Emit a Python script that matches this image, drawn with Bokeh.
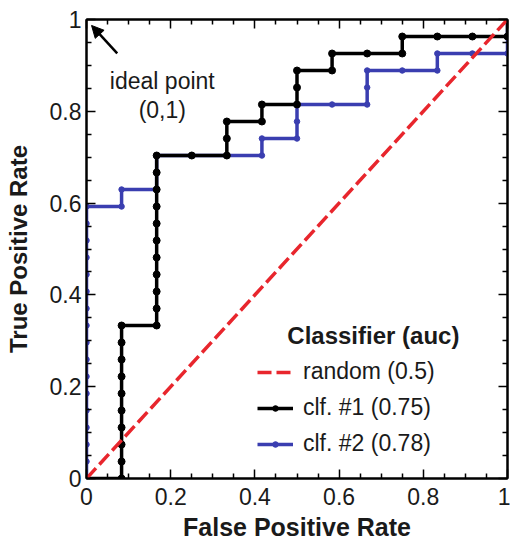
from bokeh.plotting import figure
from bokeh.models import (Range1d, LinearAxis, FixedTicker, Legend, LegendItem,
                          Label, Arrow, NormalHead)
from bokeh.embed import file_html
from bokeh.resources import INLINE

# ROC data: 12 negatives, 27 positives.
# For each false-positive count k = 0..12, the true-positive count the curve
# climbs to before the next negative is passed.
n_neg = 12
n_pos = 27
clf1_tp_levels = [0, 9, 19, 19, 21, 22, 24, 25, 25, 26, 26, 26, 27]
clf2_tp_levels = [16, 17, 19, 19, 19, 20, 22, 22, 24, 24, 25, 25, 27]

series_names = ["random (0.5)", "clf. #1 (0.75)", "clf. #2 (0.78)"]
legend_title = "Classifier (auc)"
tick_values = [0, 0.2, 0.4, 0.6, 0.8, 1]
tick_labels = ["0", "0.2", "0.4", "0.6", "0.8", "1"]
minor_values = [0.05, 0.1, 0.15, 0.25, 0.3, 0.35, 0.45, 0.5, 0.55,
                0.65, 0.7, 0.75, 0.85, 0.9, 0.95]

FONT = "Liberation Sans"
TEXT = "#1a1a1a"
RED = "#e8262d"
BLUE = "#3a3eb0"


def roc_points(levels):
    """Walk the staircase one instance at a time, returning (fpr, tpr)."""
    fp, tp = [0], [0]
    prev = 0
    for k, level in enumerate(levels):
        for t in range(prev + 1, level + 1):
            fp.append(k)
            tp.append(t)
        if k < n_neg:
            fp.append(k + 1)
            tp.append(level)
        prev = level
    return [f / n_neg for f in fp], [t / n_pos for t in tp]


x1, y1 = roc_points(clf1_tp_levels)
x2, y2 = roc_points(clf2_tp_levels)

p = figure(width=510, height=543, x_range=Range1d(0, 1), y_range=Range1d(0, 1),
           output_backend="svg", toolbar_location=None,
           min_border_left=86, min_border_right=3, min_border_top=19,
           min_border_bottom=65)
p.grid.visible = False
p.outline_line_color = "black"
p.outline_line_width = 2
p.background_fill_color = "white"
p.border_fill_color = "white"

p.add_layout(LinearAxis(), "above")
p.add_layout(LinearAxis(), "right")

overrides = {v: s for v, s in zip(tick_values, tick_labels)}
for ax in p.axis:
    ax.ticker = FixedTicker(ticks=tick_values, minor_ticks=minor_values)
    ax.axis_line_width = 2
    ax.axis_line_color = "black"
    ax.major_tick_in = 9
    ax.major_tick_out = 0
    ax.minor_tick_in = 5
    ax.minor_tick_out = 0
    ax.major_tick_line_width = 1.5
    ax.minor_tick_line_width = 1.5
    ax.major_tick_line_color = "black"
    ax.minor_tick_line_color = "black"
    ax.major_label_overrides = overrides
    ax.major_label_text_font = FONT
    ax.major_label_text_font_size = "23px"
    ax.major_label_text_color = TEXT

# mirrored frame ticks only: no labels on the top and right sides
for ax in p.above + p.right:
    ax.major_label_text_font_size = "0px"
    ax.major_label_text_color = None
    ax.major_label_standoff = 0

xa = p.below[0]
xa.axis_label = "False Positive Rate"
xa.major_label_standoff = 9
xa.axis_label_standoff = 5
ya = p.left[0]
ya.axis_label = "True Positive Rate"
ya.major_label_standoff = 5
ya.axis_label_standoff = 15
xa.axis_label_text_font_size = "25px"
ya.axis_label_text_font_size = "24px"
for ax in (xa, ya):
    ax.axis_label_text_font = FONT
    ax.axis_label_text_font_style = "bold"
    ax.axis_label_text_color = TEXT

# classifier #2 underneath, classifier #1 above it, chance line on top
blue_line = p.line(x2, y2, line_color=BLUE, line_width=3.5)
blue_pts = p.scatter(x2, y2, size=5.5, fill_color=BLUE, line_color=BLUE)
black_line = p.line(x1, y1, line_color="black", line_width=3.5)
black_pts = p.scatter(x1, y1, size=7, fill_color="black", line_color="black")
red_line = p.line([0, 1], [0, 1], line_color=RED, line_width=3.5,
                  line_dash="14 5")

legend = Legend(items=[
    LegendItem(label=series_names[0], renderers=[red_line]),
    LegendItem(label=series_names[1], renderers=[black_line, black_pts]),
    LegendItem(label=series_names[2], renderers=[blue_line, blue_pts]),
], location=(171, 19))
legend.border_line_color = None
legend.background_fill_alpha = 0
legend.padding = 0
legend.margin = 0
legend.spacing = 5
legend.label_height = 31
legend.glyph_height = 14
legend.glyph_width = 36
legend.label_standoff = 10
legend.label_text_font = FONT
legend.label_text_font_size = "23px"
legend.label_text_color = TEXT
p.add_layout(legend)

p.add_layout(Label(x=0.477, y=0.311, text=legend_title, text_font=FONT,
                   text_font_size="24px", text_font_style="bold",
                   text_color=TEXT, text_baseline="alphabetic"))

p.add_layout(Label(x=0.18, y=0.867, text="ideal point", text_font=FONT,
                   text_font_size="23px", text_color=TEXT,
                   text_align="center", text_baseline="alphabetic"))
p.add_layout(Label(x=0.18, y=0.802, text="(0,1)", text_font=FONT,
                   text_font_size="23px", text_color=TEXT,
                   text_align="center", text_baseline="alphabetic"))
p.add_layout(Arrow(x_start=0.073, y_start=0.926, x_end=0.012, y_end=0.987,
                   line_width=2.5, line_color="black",
                   end=NormalHead(size=12, fill_color="black",
                                  line_color="black")))

open("out.html", "w").write(file_html(p, INLINE))
